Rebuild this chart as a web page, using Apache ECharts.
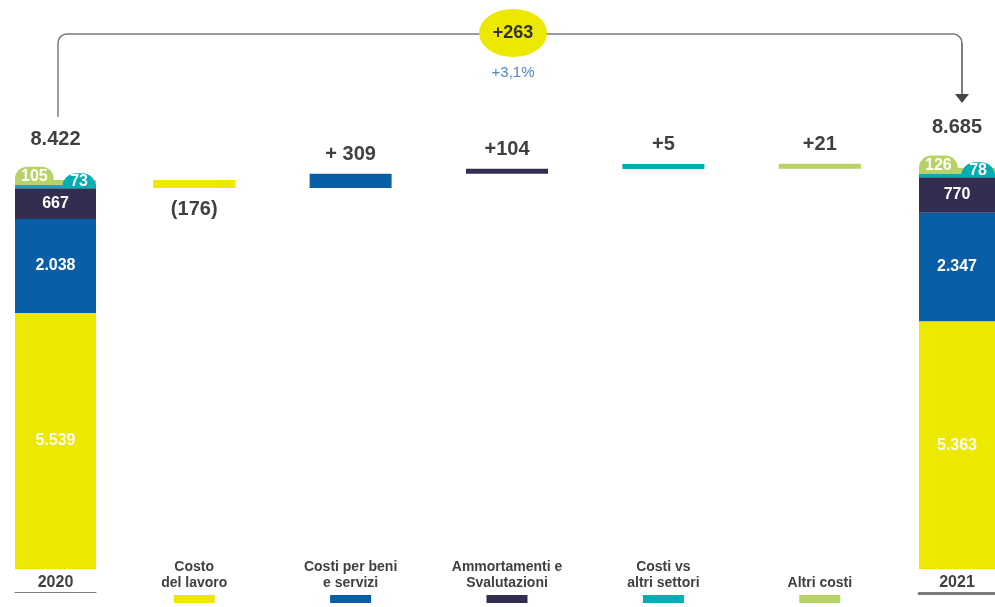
<!DOCTYPE html>
<html><head><meta charset="utf-8">
<script src="https://cdn.jsdelivr.net/npm/echarts@6/dist/echarts.min.js"></script>
<style>html,body{margin:0;padding:0;background:#fff}#c{width:995px;height:607px}</style>
</head><body><div id="c"></div><script>
// ---- data ----
const categories = ['Costo\ndel lavoro', 'Costi per beni\ne servizi', 'Ammortamenti e\nSvalutazioni', 'Costi vs\naltri settori', 'Altri costi'];
const years = ['2020', '2021'];
const values2020 = [5539, 2038, 667, 73, 105];
const values2021 = [5363, 2347, 770, 78, 126];
const totals = [8422, 8685];
const deltas = [-176, 309, 104, 5, 21];
const deltaLabels = ['(176)', '+ 309', '+104', '+5', '+21'];
const totalChangeLabel = '+263';
const totalChangePct = '+3,1%';

// ---- style ----
const COLORS = ['#EDE800', '#0A5EA8', '#332D4F', '#00AEB3', '#B7D366'];
const FONT = '"Liberation Sans", Arial, Helvetica, sans-serif';
const DARK = '#404040';
const fmt = v => String(v).replace(/\B(?=(\d{3})+(?!\d))/g, '.');

function stackSeries(values, idx, key) {
  const out = [];
  out.push({
    type: 'bar', xAxisIndex: idx, yAxisIndex: idx, data: [totals[idx === 0 ? 0 : 1]],
    barWidth: '100%', barGap: '-100%', silent: true, z: 1,
    itemStyle: { color: 'rgba(0,0,0,0)' },
    label: { show: true, position: 'top', distance: 30, formatter: p => fmt(p.value),
      color: DARK, fontWeight: 'bold', fontSize: 20, fontFamily: FONT }
  });
  values.forEach((v, i) => {
    let label;
    if (i < 3) {
      label = { show: true, position: 'inside', color: '#fff', fontWeight: 'bold', fontSize: 16, fontFamily: FONT, formatter: p => fmt(p.value) };
    } else if (i === 3) {
      label = { show: true, position: ['100%', '100%'], align: 'right', verticalAlign: 'bottom',
        backgroundColor: COLORS[3], borderRadius: [14, 14, 0, 0], padding: [1, 8, 0, 8], lineHeight: 14,
        color: '#fff', fontWeight: 'bold', fontSize: 16, fontFamily: FONT, formatter: p => fmt(p.value) };
    } else {
      label = { show: true, position: [0, '100%'], align: 'left', verticalAlign: 'bottom',
        backgroundColor: COLORS[4], borderRadius: [12, 12, 0, 0], padding: [2, 6, 0, 6], lineHeight: 16,
        color: '#fff', fontWeight: 'bold', fontSize: 16, fontFamily: FONT, formatter: p => fmt(p.value) };
    }
    out.push({
      type: 'bar', xAxisIndex: idx, yAxisIndex: idx, stack: key, data: [v],
      barWidth: '100%', barGap: '-100%', z: 2,
      itemStyle: { color: COLORS[i] }, label
    });
  });
  return out;
}

// waterfall
let running = totals[0];
const wfBase = [], wfHeight = [];
deltas.forEach(d => {
  const next = running + d;
  wfBase.push(Math.min(running, next));
  wfHeight.push(Math.abs(d));
  running = next;
});

const rich = { t: { fontSize: 14, fontWeight: 'bold', color: DARK, lineHeight: 16, fontFamily: FONT } };
COLORS.forEach((c, i) => { rich['s' + i] = { width: 41, height: 8, lineHeight: 16, backgroundColor: c }; });

const gridTop = 107, gridBottom = 38;
const chart = echarts.init(document.getElementById('c'));
chart.setOption({
  animation: false,
  textStyle: { fontFamily: FONT },
  grid: [
    { left: 15, width: 81, top: gridTop, bottom: gridBottom },
    { left: 116, width: 782, top: gridTop, bottom: gridBottom },
    { left: 919, width: 76, top: gridTop, bottom: gridBottom }
  ],
  xAxis: [
    { type: 'category', gridIndex: 0, data: [years[0]], position: 'bottom', axisLine: { show: false }, axisTick: { show: false },
      axisLabel: { margin: 6, fontSize: 16, fontWeight: 'bold', color: DARK, fontFamily: FONT } },
    { type: 'category', gridIndex: 1, data: categories, position: 'bottom', axisLine: { show: false }, axisTick: { show: false },
      axisLabel: { interval: 0, margin: -10, rich,
        formatter: (v, i) => { const l = v.split('\n'); if (l.length < 2) l.unshift(' '); return '{t|' + l[0] + '}\n{t|' + l[1] + '}\n{s' + i + '|}'; } } },
    { type: 'category', gridIndex: 2, data: [years[1]], position: 'bottom', axisLine: { show: false }, axisTick: { show: false },
      axisLabel: { margin: 6, fontSize: 16, fontWeight: 'bold', color: DARK, fontFamily: FONT } },
    { type: 'category', gridIndex: 0, data: [years[0]], position: 'bottom', offset: 23,
      axisLine: { show: true, lineStyle: { color: '#7d7d7d', width: 1 } }, axisTick: { show: false }, axisLabel: { show: false } },
    { type: 'category', gridIndex: 2, data: [years[1]], position: 'bottom', offset: 24,
      axisLine: { show: true, lineStyle: { color: '#7a7a7a', width: 3 } }, axisTick: { show: false }, axisLabel: { show: false } }
  ],
  yAxis: [0, 1, 2].map(g => ({ type: 'value', gridIndex: g, min: 0, max: 10000, show: false, splitLine: { show: false } })),
  series: [
    ...stackSeries(values2020, 0, 'y2020'),
    ...stackSeries(values2021, 2, 'y2021'),
    { type: 'bar', xAxisIndex: 1, yAxisIndex: 1, stack: 'wf', data: wfBase, barWidth: 82, silent: true,
      itemStyle: { color: 'rgba(0,0,0,0)' } },
    { type: 'bar', xAxisIndex: 1, yAxisIndex: 1, stack: 'wf', barWidth: 82, barMinHeight: 5,
      data: wfHeight.map((h, i) => ({ value: h, itemStyle: { color: COLORS[i] },
        label: { position: deltas[i] < 0 ? 'bottom' : 'top', distance: deltas[i] < 0 ? 11 : 9 } })),
      label: { show: true, formatter: p => deltaLabels[p.dataIndex], color: DARK, fontWeight: 'bold', fontSize: 20, fontFamily: FONT } }
  ],
  graphic: [
    { type: 'line', shape: { x1: 58, y1: 117, x2: 58, y2: 43 }, style: { stroke: '#7a7a7a', lineWidth: 1.5 } },
    { type: 'arc', shape: { cx: 67, cy: 43, r: 9, startAngle: Math.PI, endAngle: Math.PI * 1.5, clockwise: true }, style: { stroke: '#7a7a7a', lineWidth: 1.5, fill: null } },
    { type: 'line', shape: { x1: 67, y1: 34, x2: 953, y2: 34 }, style: { stroke: '#7a7a7a', lineWidth: 1.5 } },
    { type: 'arc', shape: { cx: 953, cy: 43, r: 9, startAngle: -Math.PI / 2, endAngle: 0, clockwise: true }, style: { stroke: '#7a7a7a', lineWidth: 1.5, fill: null } },
    { type: 'line', shape: { x1: 962, y1: 43, x2: 962, y2: 95 }, style: { stroke: '#555', lineWidth: 1.5 } },
    { type: 'polygon', shape: { points: [[955, 94], [969, 94], [962, 103]] }, style: { fill: '#444' } },
    { type: 'circle', x: 513, y: 33, scaleX: 34 / 24, shape: { cx: 0, cy: 0, r: 24 }, style: { fill: '#EDE800' }, z: 10 },
    { type: 'text', x: 513, y: 33, z: 11, style: { text: totalChangeLabel, align: 'center', verticalAlign: 'middle', fill: '#333', font: 'bold 18px ' + FONT } },
    { type: 'text', x: 513, y: 73, z: 11, style: { text: totalChangePct, align: 'center', verticalAlign: 'middle', fill: '#4C88C6', font: '15px ' + FONT } }
  ]
});
</script></body></html>
